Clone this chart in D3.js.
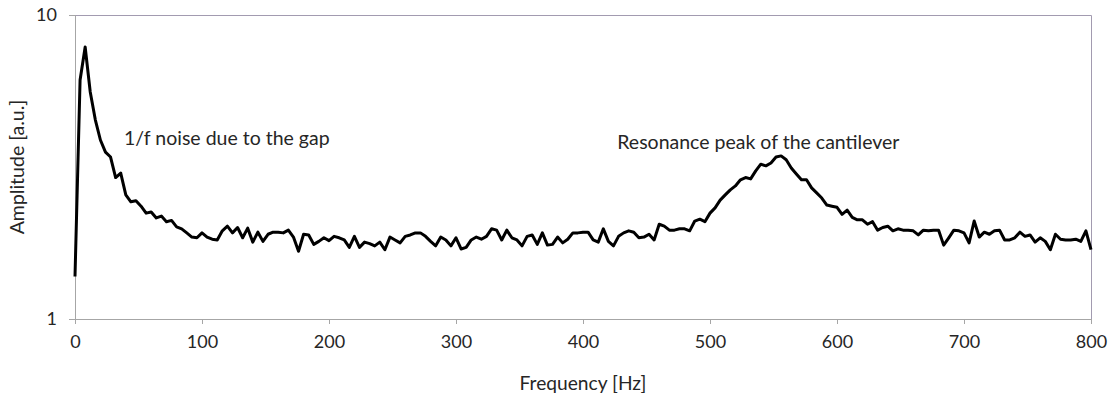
<!DOCTYPE html>
<html>
<head>
<meta charset="utf-8">
<script src="https://cdn.jsdelivr.net/npm/d3@7"></script>
<style>
  body { margin: 0; background: #fff; }
  text { font-family: Lato, "Open Sans", sans-serif; fill: #262626; }
</style>
</head>
<body>
<div id="chart"></div>
<script>
// spectrum sampled every 4 Hz, 0..800 Hz
const sampleStep = 4;
const amplitudes = [
  1.38, 6.11, 7.85, 5.58, 4.52, 3.88, 3.54, 3.41, 2.92, 3.02,
  2.56, 2.43, 2.45, 2.35, 2.23, 2.25, 2.15, 2.18, 2.09, 2.11,
  2.01, 1.98, 1.92, 1.86, 1.85, 1.92, 1.86, 1.83, 1.82, 1.95,
  2.02, 1.92, 2.00, 1.85, 1.99, 1.79, 1.93, 1.80, 1.90, 1.93,
  1.93, 1.92, 1.96, 1.86, 1.67, 1.90, 1.89, 1.76, 1.80, 1.85,
  1.81, 1.87, 1.85, 1.82, 1.72, 1.87, 1.72, 1.79, 1.77, 1.74,
  1.79, 1.69, 1.86, 1.82, 1.78, 1.87, 1.89, 1.92, 1.92, 1.87,
  1.80, 1.74, 1.86, 1.82, 1.74, 1.85, 1.70, 1.72, 1.82, 1.86,
  1.83, 1.87, 1.98, 1.96, 1.82, 1.96, 1.85, 1.82, 1.74, 1.87,
  1.89, 1.76, 1.92, 1.75, 1.76, 1.86, 1.78, 1.83, 1.92, 1.92,
  1.93, 1.93, 1.82, 1.79, 1.98, 1.80, 1.74, 1.87, 1.92, 1.95,
  1.93, 1.85, 1.86, 1.90, 1.82, 2.05, 2.02, 1.96, 1.96, 1.98,
  1.98, 1.95, 2.10, 2.13, 2.09, 2.23, 2.32, 2.46, 2.56, 2.66,
  2.74, 2.87, 2.92, 2.89, 3.07, 3.23, 3.19, 3.26, 3.41, 3.44,
  3.34, 3.14, 3.00, 2.87, 2.87, 2.70, 2.60, 2.50, 2.37, 2.35,
  2.33, 2.21, 2.28, 2.16, 2.12, 2.12, 2.05, 2.09, 1.96, 2.00,
  2.02, 1.95, 1.98, 1.96, 1.96, 1.95, 1.89, 1.96, 1.95, 1.96,
  1.96, 1.75, 1.85, 1.96, 1.95, 1.92, 1.78, 2.10, 1.86, 1.93,
  1.90, 1.95, 1.96, 1.82, 1.82, 1.85, 1.93, 1.87, 1.89, 1.79,
  1.85, 1.80, 1.69, 1.90, 1.83, 1.82, 1.82, 1.83, 1.80, 1.95,
  1.69
];
const xTicks = [0, 100, 200, 300, 400, 500, 600, 700, 800];
const yTicks = [1, 10];
const annotations = [
  { text: "1/f noise due to the gap", f: 38.5, a: 3.74 },
  { text: "Resonance peak of the cantilever", f: 427, a: 3.63 }
];

function drawChart() {
  const width = 1112, height = 393;
  const margin = { top: 15, right: 21, bottom: 74, left: 75 };

  const svg = d3.select("#chart").append("svg").attr("width", width).attr("height", height);

  const x = d3.scaleLinear().domain([0, 800]).range([margin.left, width - margin.right]);
  const y = d3.scaleLog().domain([1, 10]).range([height - margin.bottom, margin.top]);

  // frame top/right
  svg.append("path")
    .attr("d", `M${x(0) - 6},${y(10) + 0.5}H${x(800) + 0.5}V${y(1)}`)
    .attr("fill", "none").attr("stroke", "#a29bb0").attr("stroke-width", 1);

  const xAxis = svg.append("g")
    .attr("transform", `translate(0,${y(1)})`)
    .call(d3.axisBottom(x).tickValues(xTicks).tickSize(5).tickPadding(11).tickSizeOuter(0));
  const yAxis = svg.append("g")
    .attr("transform", `translate(${x(0)},0)`)
    .call(d3.axisLeft(y).tickValues(yTicks).tickFormat(d3.format("d")).tickSize(6).tickPadding(12).tickSizeOuter(0));

  [xAxis, yAxis].forEach(g => {
    g.selectAll("path, line").attr("stroke", "#a6a6a6");
    g.selectAll("text").style("font-size", "18px").attr("fill", "#262626")
      .style("font-family", 'Lato, "Open Sans", sans-serif');
  });

  const line = d3.line()
    .x((d, i) => x(i * sampleStep))
    .y(d => y(d));

  svg.append("path").datum(amplitudes)
    .attr("d", line)
    .attr("fill", "none")
    .attr("stroke", "#000")
    .attr("stroke-width", 3)
    .attr("stroke-linejoin", "round");

  svg.selectAll(".note").data(annotations).join("text")
    .attr("class", "note")
    .attr("x", d => x(d.f)).attr("y", d => y(d.a))
    .style("font-size", "19.5px")
    .text(d => d.text);

  svg.append("text")
    .attr("x", x(400)).attr("y", 390)
    .attr("text-anchor", "middle").style("font-size", "19.2px")
    .text("Frequency [Hz]");

  svg.append("text")
    .attr("transform", `translate(24,${(y(1) + y(10)) / 2}) rotate(-90)`)
    .attr("text-anchor", "middle").style("font-size", "19.5px")
    .text("Amplitude [a.u.]");
}

document.addEventListener("DOMContentLoaded", () => {
  drawChart();
});
</script>
</body>
</html>
